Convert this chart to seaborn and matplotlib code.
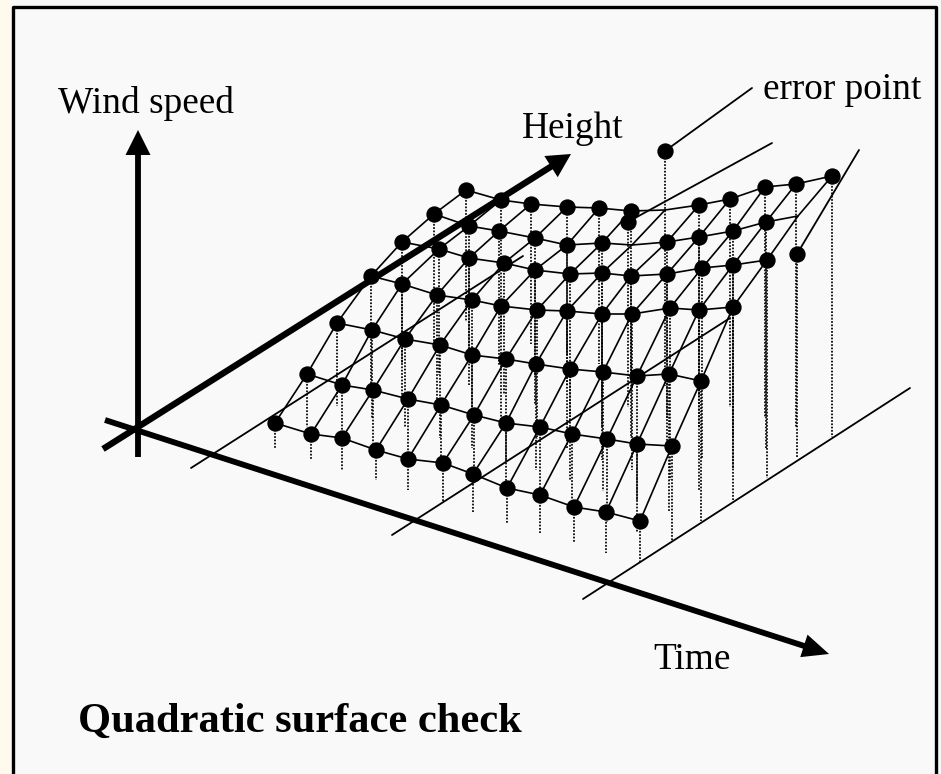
import matplotlib
matplotlib.use("Agg")
import matplotlib.pyplot as plt
import numpy as np
import pandas as pd
import seaborn as sns

# measured points, one row per height level (front to back), picture coordinates
row1_x = [275, 311, 342, 376, 408, 443, 473, 507, 540, 574, 606, 640]
row1_y = [423, 434, 438, 450, 459, 463, 474, 488, 495, 507, 512, 521]
row2_x = [307, 342, 373, 408, 441, 474, 506, 540, 572, 607, 637, 672]
row2_y = [374, 385, 390, 399, 405, 415, 423, 427, 434, 439, 444, 446]
row3_x = [337, 372, 405, 440, 472, 506, 536, 570, 603, 637, 669, 701]
row3_y = [323, 330, 339, 345, 355, 359, 364, 369, 372, 376, 374, 381]
row4_x = [371, 402, 437, 472, 501, 537, 567, 602, 632, 670, 699, 733]
row4_y = [276, 284, 295, 300, 306, 310, 311, 314, 314, 308, 310, 307]
row5_x = [402, 439, 469, 504, 535, 570, 602, 631, 667, 702, 733, 767]
row5_y = [242, 249, 258, 263, 270, 274, 273, 276, 274, 268, 265, 260]
row6_x = [434, 469, 499, 535, 567, 602, 628, 667, 699, 733, 766, 797]
row6_y = [214, 226, 231, 238, 245, 243, 222, 242, 237, 231, 222, 254]
row7_x = [466, 501, 531, 567, 599, 631, 665, 699, 730, 765, 796, 832]
row7_y = [190, 200, 204, 207, 208, 211, 151, 205, 199, 187, 184, 176]

# where the fitted surface passes at the three points that lie off it: (row, col, x, y)
surface_fix = [(5, 6, 632, 245), (5, 11, 798, 216), (6, 6, 665, 210)]

# foot of each dotted stem
floor_front = [448, 460, 470, 480, 490, 502, 512, 523, 533, 543, 553, 563]
floor_rise = [0, 21, 42, 63, 85, 105, 126]

# thin straight lines: base-plane rulings, residual rulings, leader
thin_names = ["a", "a", "b", "b", "c", "c", "d", "d", "e", "e", "f", "f"]
thin_x = [191, 523, 392, 730, 583, 910, 635, 772, 797, 859, 665, 752]
thin_y = [468, 256, 535, 318, 599, 388, 218, 143, 254, 150, 151, 88]

# frame
frame_x = [13.5, 13.5, 936.5, 936.5]
frame_y = [774, 6.5, 6.5, 774]

# axis arrows: tail, tip
arrow_tails = [(138, 457), (103, 449), (105, 420)]
arrow_tips = [(138, 130), (571, 154), (829, 654)]
arrow_styles = [
    "simple,tail_width=4.2,head_width=18,head_length=18",
    "simple,tail_width=4.6,head_width=18,head_length=17",
    "simple,tail_width=4.2,head_width=17,head_length=19",
]

# labels: text, x, baseline
label_text = ["Wind speed", "Height", "error point", "Time"]
label_x = [58, 522, 763, 653]
label_y = [113, 138, 99, 669]
title_text = "Quadratic surface check"

all_x = np.array([row1_x, row2_x, row3_x, row4_x, row5_x, row6_x, row7_x], float)
all_y = np.array([row1_y, row2_y, row3_y, row4_y, row5_y, row6_y, row7_y], float)
rows, cols = all_x.shape

points = pd.DataFrame({
    "x": all_x.ravel(),
    "y": all_y.ravel(),
    "row": np.repeat(np.arange(rows), cols),
    "col": np.tile(np.arange(cols), rows),
})
surface = points.copy()
for r, c, sx, sy in surface_fix:
    mask = (surface["row"] == r) & (surface["col"] == c)
    surface.loc[mask, ["x", "y"]] = [sx, sy]

stem_top = points.assign(stem=points.index)
stem_foot = stem_top.copy()
stem_foot["y"] = [floor_front[c] - floor_rise[r] for r, c in zip(points["row"], points["col"])]
stems = pd.concat([stem_top, stem_foot]).sort_values("stem", kind="stable")

thin = pd.DataFrame({"x": thin_x, "y": thin_y, "name": thin_names})
frame = pd.DataFrame({"x": frame_x, "y": frame_y})

sns.set_theme(style="white")
plt.rcParams["font.family"] = ["Liberation Serif", "DejaVu Serif"]

fig, ax = plt.subplots(figsize=(9.41, 7.74), dpi=100)
fig.subplots_adjust(0, 0, 1, 1)
fig.patch.set_facecolor("#f9f9f9")
ax.set_facecolor("#f9f9f9")
ax.axvspan(0, 12, color="#fff9ee", lw=0, zorder=0)

common = dict(estimator=None, sort=False, legend=False, color="black", ax=ax)
sns.lineplot(data=stems, x="x", y="y", units="stem", linewidth=1.25,
             linestyle=(0, (1.0, 0.9)), **common)
sns.lineplot(data=thin, x="x", y="y", units="name", linewidth=1.3, **common)
sns.lineplot(data=surface, x="x", y="y", units="row", linewidth=1.2, **common)
sns.lineplot(data=surface, x="x", y="y", units="col", linewidth=1.2, **common)
sns.lineplot(data=frame, x="x", y="y", units=None, linewidth=2.4, **common)
sns.scatterplot(data=points, x="x", y="y", s=138, color="black", linewidth=0,
                legend=False, ax=ax, zorder=5)

for tail, tip, style in zip(arrow_tails, arrow_tips, arrow_styles):
    ax.annotate("", xy=tip, xytext=tail, zorder=6,
                arrowprops=dict(arrowstyle=style, mutation_scale=1, lw=0,
                                fc="black", ec="black", shrinkA=0, shrinkB=0))

for t, x, y in zip(label_text, label_x, label_y):
    ax.text(x, y, t, fontsize=26.8, color="black", ha="left", va="baseline")
ax.text(78, 732, title_text, fontsize=30.6, fontweight="bold", color="black",
        ha="left", va="baseline")

ax.set_xlim(0, 941)
ax.set_ylim(774, 0)
ax.set_xlabel("")
ax.set_ylabel("")
ax.set_xticks([])
ax.set_yticks([])
sns.despine(ax=ax, left=True, bottom=True)

fig.savefig("out.png", dpi=100, facecolor=fig.get_facecolor())
